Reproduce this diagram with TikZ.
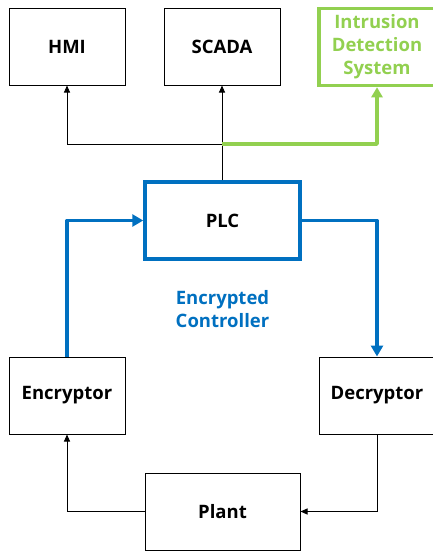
\documentclass[tikz,border=0pt]{standalone}
\usepackage{fontspec}
\setmainfont{Open Sans}
\usepackage{xcolor}
\usetikzlibrary{arrows.meta}
\definecolor{ctrlblue}{HTML}{0070C0}
\definecolor{idsgreen}{HTML}{92D050}

\begin{document}
\begin{tikzpicture}[x=1pt, y=-1pt,
  block/.style={draw, line width=1pt, minimum width=116pt, minimum height=77pt,
    inner sep=0pt, align=center, font=\fontsize{18.5}{23}\selectfont\bfseries},
  sig/.style={-{Triangle[length=7pt,width=6pt]}, line width=0.9pt},
  enc/.style={-{Triangle[length=11pt,width=12pt]}, line width=3.5pt, ctrlblue, line join=round},
  idsline/.style={-{Triangle[length=10pt,width=11pt]}, line width=3.5pt, idsgreen, line join=round}]
\useasboundingbox (0,0) rectangle (433,554);

% Top row
\node[block] (hmi) at (67,46.5) {HMI};
\node[block] (scada) at (222,46.5) {SCADA};
\node[block, draw=idsgreen, text=idsgreen, line width=3.5pt] (ids) at (377,47) {Intrusion\\Detection\\System};

% Controller
\node[block, draw=ctrlblue, line width=3.5pt, minimum width=155pt] (plc) at (222.5,220.5) {PLC};
\node[align=center, text=ctrlblue, font=\fontsize{18.5}{23}\selectfont\bfseries] (label) at (222.5,309) {Encrypted\\Controller};

% Loop
\node[block] (encryptor) at (67,395.5) {Encryptor};
\node[block] (decryptor) at (377,395.5) {Decryptor};
\node[block, minimum width=155pt] (plant) at (222.5,511.5) {Plant};

% Outputs of the PLC
\coordinate (tap) at (222,144);
\draw[sig] (plc.north -| tap) -- (scada.south);
\draw[sig] (tap) -| (hmi.south);
\draw[idsline] (tap) -| (ids.south);

% Encrypted path
\draw[enc] (encryptor.north) |- (plc.west);
\draw[enc] (plc.east) -| (decryptor.north);

% Plant path
\draw[sig] (decryptor.south) |- (plant.east);
\draw[sig] (plant.west) -| (encryptor.south);

\end{tikzpicture}
\end{document}
